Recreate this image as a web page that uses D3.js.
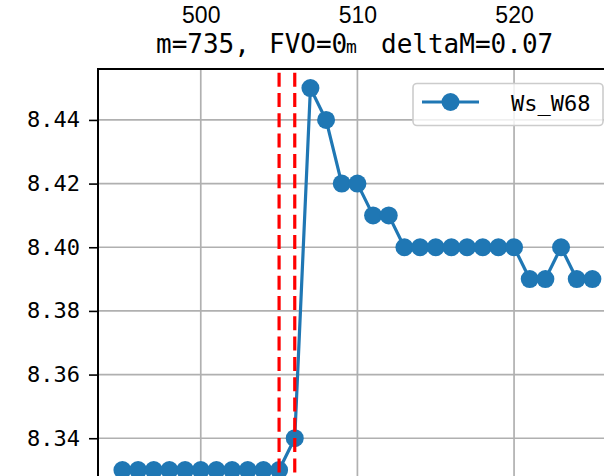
<!DOCTYPE html>
<html>
<head>
<meta charset="utf-8">
<script src="https://cdn.jsdelivr.net/npm/d3@7"></script>
<style>
  html, body { margin: 0; padding: 0; background: #fff; }
  svg { display: block; }
</style>
</head>
<body>
<script>
// ---- data ----
const xValues = [495,496,497,498,499,500,501,502,503,504,505,506,507,508,509,510,511,512,513,514,515,516,517,518,519,520,521,522,523,524,525];
const wsW68 = [8.33,8.33,8.33,8.33,8.33,8.33,8.33,8.33,8.33,8.33,8.33,8.34,8.45,8.44,8.42,8.42,8.41,8.41,8.40,8.40,8.40,8.40,8.40,8.40,8.40,8.40,8.39,8.39,8.40,8.39,8.39];
const redLines = [505, 506];
const xTicks = [500, 510, 520];
const yTicks = [8.34, 8.36, 8.38, 8.40, 8.42, 8.44];
const seriesName = "Ws_W68";
const titleParts = ["m=735,", "FVO=0", "m", "deltaM=0.07"];

// ---- layout ----
const W = 604, H = 476;
const mLeft = 98, mTop = 69;
const xDomain = [493.44, 530];
const yDomain = [8.456, 8.32];
const pxPerX = 15.665, pxPerY = 3183;

const x = d3.scaleLinear().domain(xDomain).range([mLeft, mLeft + (xDomain[1] - xDomain[0]) * pxPerX]);
const y = d3.scaleLinear().domain(yDomain).range([mTop, mTop + (yDomain[0] - yDomain[1]) * pxPerY]);

const svg = d3.select("body").append("svg").attr("width", W).attr("height", H);
svg.append("rect").attr("width", W).attr("height", H).attr("fill", "#fff");

const mono = "'DejaVu Sans Mono', monospace";
const blue = "#1f77b4";

// grid
const g = svg.append("g");
g.selectAll(".gx").data(xTicks).join("line")
  .attr("x1", d => x(d)).attr("x2", d => x(d))
  .attr("y1", mTop).attr("y2", H + 10)
  .attr("stroke", "#b0b0b0").attr("stroke-width", 1.7);
g.selectAll(".gy").data(yTicks).join("line")
  .attr("x1", mLeft).attr("x2", W + 10)
  .attr("y1", d => y(d)).attr("y2", d => y(d))
  .attr("stroke", "#b0b0b0").attr("stroke-width", 1.7);

// series line + markers
const pts = xValues.map((d, i) => [d, wsW68[i]]);
svg.append("path")
  .attr("d", d3.line().x(d => x(d[0])).y(d => y(d[1]))(pts))
  .attr("fill", "none").attr("stroke", blue).attr("stroke-width", 3.2)
  .attr("stroke-linejoin", "round");
svg.selectAll(".pt").data(pts).join("circle")
  .attr("cx", d => x(d[0])).attr("cy", d => y(d[1])).attr("r", 9)
  .attr("fill", blue);

// red dashed vertical lines (drawn over the series)
svg.selectAll(".red").data(redLines).join("line")
  .attr("x1", d => x(d)).attr("x2", d => x(d))
  .attr("y1", mTop).attr("y2", H + 10)
  .attr("stroke", "#ff0000").attr("stroke-width", 3.2)
  .attr("stroke-dasharray", "14,6.3").attr("stroke-dashoffset", 16.6);

// y axis
const yAxis = d3.axisLeft(y).tickValues(yTicks).tickFormat(d3.format(".2f"))
  .tickSize(9).tickPadding(9);
const ya = svg.append("g").attr("transform", `translate(${mLeft},0)`).call(yAxis);
ya.select(".domain").remove();
ya.selectAll(".tick line").attr("stroke", "#000").attr("stroke-width", 1.6);
ya.selectAll(".tick text").attr("font-family", mono).attr("font-size", 22).attr("fill", "#000");

// top labels (belonging to the x axis above, tick marks cropped away)
const xAxis = d3.axisBottom(x).tickValues(xTicks).tickFormat(d3.format("d"))
  .tickSize(8).tickPadding(4);
const xa = svg.append("g").attr("transform", "translate(0,-5)").call(xAxis);
xa.select(".domain").remove();
xa.selectAll(".tick line").remove();
xa.selectAll(".tick text").attr("font-family", "'Liberation Sans', Arial, sans-serif")
  .attr("font-size", 23).attr("fill", "#000");

// spines
svg.append("line").attr("x1", mLeft).attr("x2", W + 10).attr("y1", mTop).attr("y2", mTop)
  .attr("stroke", "#000").attr("stroke-width", 2);
svg.append("line").attr("x1", mLeft).attr("x2", mLeft).attr("y1", mTop - 1).attr("y2", H + 10)
  .attr("stroke", "#000").attr("stroke-width", 2);

// title
const t = svg.append("text").attr("font-family", mono).attr("font-size", 26).attr("fill", "#000")
  .attr("y", 53);
t.append("tspan").attr("x", 156).text(titleParts[0]);
t.append("tspan").attr("x", 269).text(titleParts[1]);
t.append("tspan").attr("x", 346).attr("font-size", 18).text(titleParts[2]);
t.append("tspan").attr("x", 381).text(titleParts[3]);

// legend
const lg = svg.append("g");
lg.append("rect").attr("x", 413).attr("y", 83.5).attr("width", 190).attr("height", 42).attr("rx", 4)
  .attr("fill", "#fff").attr("fill-opacity", 0.8).attr("stroke", "#cccccc").attr("stroke-width", 1.6);
lg.append("line").attr("x1", 422).attr("x2", 479).attr("y1", 102).attr("y2", 102)
  .attr("stroke", blue).attr("stroke-width", 3.2);
lg.append("circle").attr("cx", 450.5).attr("cy", 102).attr("r", 9).attr("fill", blue);
lg.append("text").attr("x", 511).attr("y", 111).attr("font-family", mono).attr("font-size", 22)
  .attr("fill", "#000").text(seriesName);
</script>
</body>
</html>
